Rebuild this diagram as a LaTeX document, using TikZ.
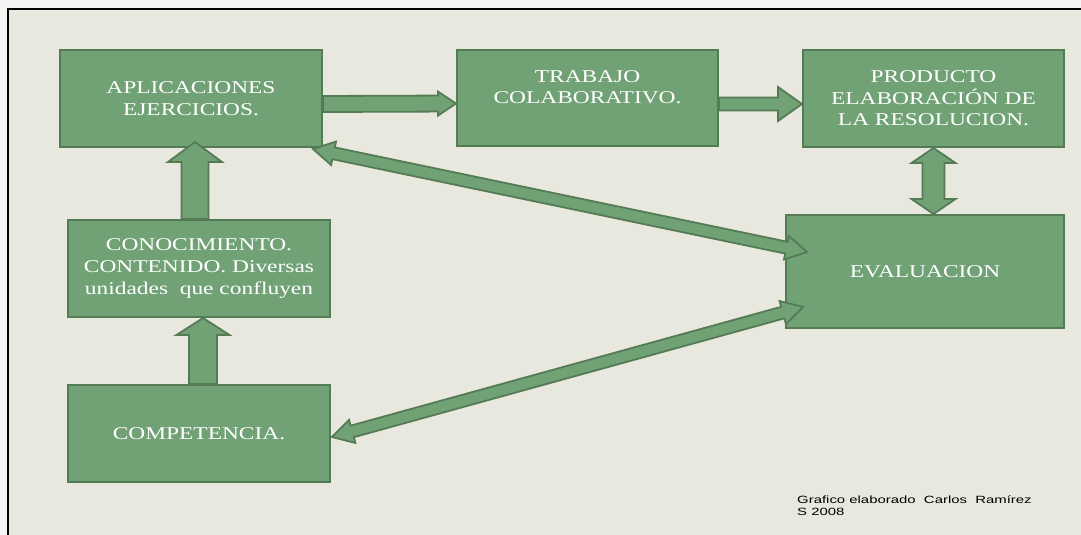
\documentclass[tikz,border=0pt]{standalone}
\usepackage{fontspec}
\usetikzlibrary{calc}
\newfontfamily\bxfont[FakeStretch=1.3]{Liberation Serif}
\newfontfamily\ftfont[FakeStretch=1.42]{Liberation Sans}
\definecolor{bgpage}{HTML}{F4F4F2}
\definecolor{bgslide}{HTML}{E9E8DE}
\definecolor{boxfill}{HTML}{71A276}
\definecolor{boxline}{HTML}{557B55}
\tikzset{
  box/.style={draw=boxline, fill=boxfill, line width=2pt, inner sep=0pt, align=center,
    text=white, font=\bxfont\fontsize{18}{21.6}\selectfont},
  boxtext/.style={inner sep=0pt, align=center, text=white, font=\bxfont\fontsize{18}{21.6}\selectfont},
  barrow/.style={draw=boxline, fill=boxfill, line width=1.8pt, line join=miter},
  foot/.style={inner sep=0pt, align=left, anchor=base west, font=\ftfont\fontsize{10.5}{12}\selectfont, text=black}
}
% single block arrow: #1 start, #2 tip, #3 shaft half width, #4 head half width, #5 head length
\newcommand\blockarrow[5]{%
  \coordinate (bA) at (#1); \coordinate (bB) at (#2);
  \coordinate (bC) at ($(bB)!#5!(bA)$);
  \filldraw[barrow] ($(bA)!#3!90:(bB)$) -- ($(bC)!#3!90:(bB)$) -- ($(bC)!#4!90:(bB)$) -- (bB)
    -- ($(bC)!#4!-90:(bB)$) -- ($(bC)!#3!-90:(bB)$) -- ($(bA)!#3!-90:(bB)$) -- cycle;
}
% double block arrow
\newcommand\dblockarrow[5]{%
  \coordinate (bA) at (#1); \coordinate (bB) at (#2);
  \coordinate (cA) at ($(bA)!#5!(bB)$);
  \coordinate (cB) at ($(bB)!#5!(bA)$);
  \filldraw[barrow] (bA) -- ($(cA)!#4!90:(bB)$) -- ($(cA)!#3!90:(bB)$) -- ($(cB)!#3!90:(bB)$)
    -- ($(cB)!#4!90:(bB)$) -- (bB) -- ($(cB)!#4!-90:(bB)$) -- ($(cB)!#3!-90:(bB)$)
    -- ($(cA)!#3!-90:(bB)$) -- ($(cA)!#4!-90:(bB)$) -- cycle;
}
\begin{document}
\begin{tikzpicture}[x=1pt, y=-1pt]
\useasboundingbox (0,0) rectangle (1081,535);
\fill[bgpage] (0,0) rectangle (1081,535);
\fill[bgslide] (8,9) rectangle (1081,535);
\draw[black, line width=2pt] (8,535) -- (8,9) -- (1081,9);

\node[box, minimum width=262pt, minimum height=97pt] (aplic) at (191,98.5) {APLICACIONES\\EJERCICIOS.};
\node[box, minimum width=261pt, minimum height=96pt] (trab) at (587.5,98) {};
\node[boxtext] (trabt) at ($(trab)+(0,-11)$) {TRABAJO\\COLABORATIVO.};
\node[box, minimum width=261pt, minimum height=97pt] (prod) at (933.5,98.5) {PRODUCTO\\ELABORACIÓN DE\\LA RESOLUCION.};
\node[box, minimum width=278pt, minimum height=113pt] (eval) at (925,271.5) {EVALUACION};
\node[box, minimum width=262pt, minimum height=97pt] (conoc) at (199,268.5) {CONOCIMIENTO.\\CONTENIDO. Diversas\\unidades\ \ que confluyen};
\node[box, minimum width=262pt, minimum height=97pt] (comp) at (199,433.5) {COMPETENCIA.};

\blockarrow{$(aplic.east)+(0,5.5)$}{$(trab.west)+(0,5.5)$}{8pt}{12pt}{18pt}
\blockarrow{$(trab.east)+(0,6)$}{$(prod.west)+(0,5.5)$}{6.5pt}{17pt}{24pt}
\dblockarrow{prod.south}{prod.south |- eval.north}{11pt}{22pt}{15pt}
\blockarrow{$(conoc.north)+(-4,0)$}{$(aplic.south)+(4,-6)$}{13.5pt}{27pt}{20pt}
\blockarrow{$(comp.north)+(4,0)$}{$(conoc.south)+(4,0)$}{14pt}{26.5pt}{17pt}
\dblockarrow{$(aplic.south east)+(-10,1)$}{$(eval.west)+(22,-19.5)$}{6pt}{12pt}{21pt}
\dblockarrow{$(comp.east)+(1,3.5)$}{$(eval.west)+(18,35.5)$}{6pt}{12pt}{21pt}

\node[foot] (credit) at (797,515) {Grafico elaborado\ \ Carlos\ \ Ramírez\\S 2008};
\end{tikzpicture}
\end{document}
